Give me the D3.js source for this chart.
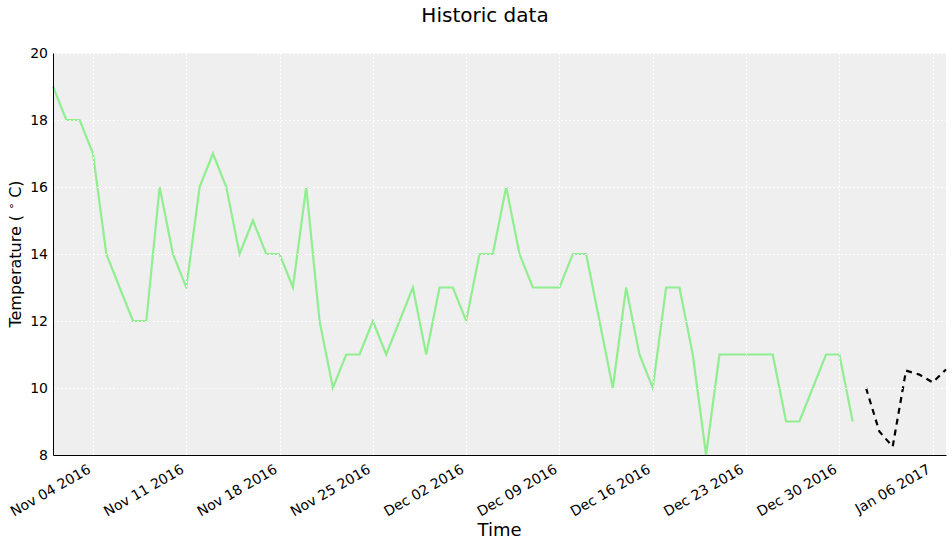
<!DOCTYPE html>
<html>
<head>
<meta charset="utf-8">
<script src="https://cdn.jsdelivr.net/npm/d3@7"></script>
<style>
  body { margin: 0; background: #fff; }
  svg { font-family: "DejaVu Sans", sans-serif; }
</style>
</head>
<body>
<svg id="chart" width="952" height="547"></svg>
<script>
// historic daily temperatures, starting Nov 01 2016
const historicStart = "2016-11-01";
const historicTemps = [19, 18, 18, 17, 14, 13, 12, 12, 16, 14, 13, 16, 17, 16, 14, 15, 14, 14, 13, 16,
  12, 10, 11, 11, 12, 11, 12, 13, 11, 13, 13, 12, 14, 14, 16, 14, 13, 13, 13, 14,
  14, 12, 10, 13, 11, 10, 13, 13, 11, 8, 11, 11, 11, 11, 11, 9, 9, 10, 11, 11, 9];

// forecast, starting Jan 01 2017
const forecastStart = "2017-01-01";
const forecastTemps = [10, 8.7, 8.25, 10.52, 10.4, 10.17, 10.55];

const yTicks = [8, 10, 12, 14, 16, 18, 20];
const xTickDates = ["2016-11-04", "2016-11-11", "2016-11-18", "2016-11-25", "2016-12-02",
  "2016-12-09", "2016-12-16", "2016-12-23", "2016-12-30", "2017-01-06"];

const parse = d3.utcParse("%Y-%m-%d");
const toSeries = (start, vals) => vals.map((v, i) => ({ date: d3.utcDay.offset(parse(start), i), value: v }));
const historic = toSeries(historicStart, historicTemps);
const forecast = toSeries(forecastStart, forecastTemps);

const margin = { top: 53, right: 6, bottom: 92, left: 53 };
const W = 952, H = 547;
const width = W - margin.left - margin.right;
const height = H - margin.top - margin.bottom;

const svg = d3.select("#chart");
const g = svg.append("g").attr("transform", `translate(${margin.left},${margin.top})`);

const x = d3.scaleUtc().domain([parse("2016-11-01"), parse("2017-01-07")]).range([0, width]);
const y = d3.scaleLinear().domain([8, 20]).range([height, 0]);

// plot background
g.append("rect").attr("width", width).attr("height", height).attr("fill", "#efefef");

// lines
const line = d3.line().x(d => x(d.date)).y(d => y(d.value));
g.append("path").datum(historic)
  .attr("fill", "none").attr("stroke", "#90ee90").attr("stroke-width", 2.2)
  .attr("d", line);
g.append("path").datum(forecast)
  .attr("fill", "none").attr("stroke", "#000").attr("stroke-width", 2.2)
  .attr("stroke-dasharray", "6,5")
  .attr("d", line);

// grid (white dotted, drawn over the lines like the original)
const grid = g.append("g").attr("shape-rendering", "crispEdges")
  .attr("stroke", "#fff").attr("stroke-width", 1).attr("stroke-dasharray", "1.5,2.5");
grid.selectAll(".gy").data(yTicks.slice(1)).join("line").attr("class", "gy")
  .attr("x1", 0).attr("x2", width)
  .attr("y1", d => Math.round(y(d)) + 0.5).attr("y2", d => Math.round(y(d)) + 0.5);
grid.selectAll(".gx").data(xTickDates.map(parse)).join("line").attr("class", "gx")
  .attr("x1", d => Math.round(x(d)) + 0.5).attr("x2", d => Math.round(x(d)) + 0.5)
  .attr("y1", 0).attr("y2", height);

// axes
const yAxis = g.append("g")
  .call(d3.axisLeft(y).tickValues(yTicks).tickSize(0).tickPadding(5).tickFormat(d3.format("d")));
yAxis.select(".domain").attr("stroke", "#000");
yAxis.selectAll("text").style("font-size", "14px").attr("fill", "#000")
  .style("font-family", "DejaVu Sans, sans-serif");

const xAxis = g.append("g").attr("transform", `translate(0,${height})`)
  .call(d3.axisBottom(x).tickValues(xTickDates.map(parse)).tickSize(0)
    .tickFormat(d3.utcFormat("%b %d %Y")));
xAxis.select(".domain").attr("stroke", "#000");
xAxis.selectAll("text")
  .style("font-size", "14px").attr("fill", "#000")
  .style("font-family", "DejaVu Sans, sans-serif")
  .attr("text-anchor", "end")
  .attr("dy", null).attr("y", 0)
  .attr("transform", "translate(-7,8) rotate(-30)")
  .attr("dominant-baseline", "hanging");

// labels
svg.append("text").attr("x", 485).attr("y", 22).attr("text-anchor", "middle")
  .attr("font-size", 20).text("Historic data");
svg.append("text").attr("x", margin.left + width / 2).attr("y", 536).attr("text-anchor", "middle")
  .attr("font-size", 18).text("Time");
const yl = svg.append("text")
  .attr("transform", `translate(21,${margin.top + height / 2}) rotate(-90)`)
  .attr("text-anchor", "middle").attr("font-size", 16);
yl.append("tspan").text("Temperature ( ");
yl.append("tspan").attr("font-size", 11).attr("dy", -6).text("\u2218");
yl.append("tspan").attr("dy", 6).text(" C)");
</script>
</body>
</html>
